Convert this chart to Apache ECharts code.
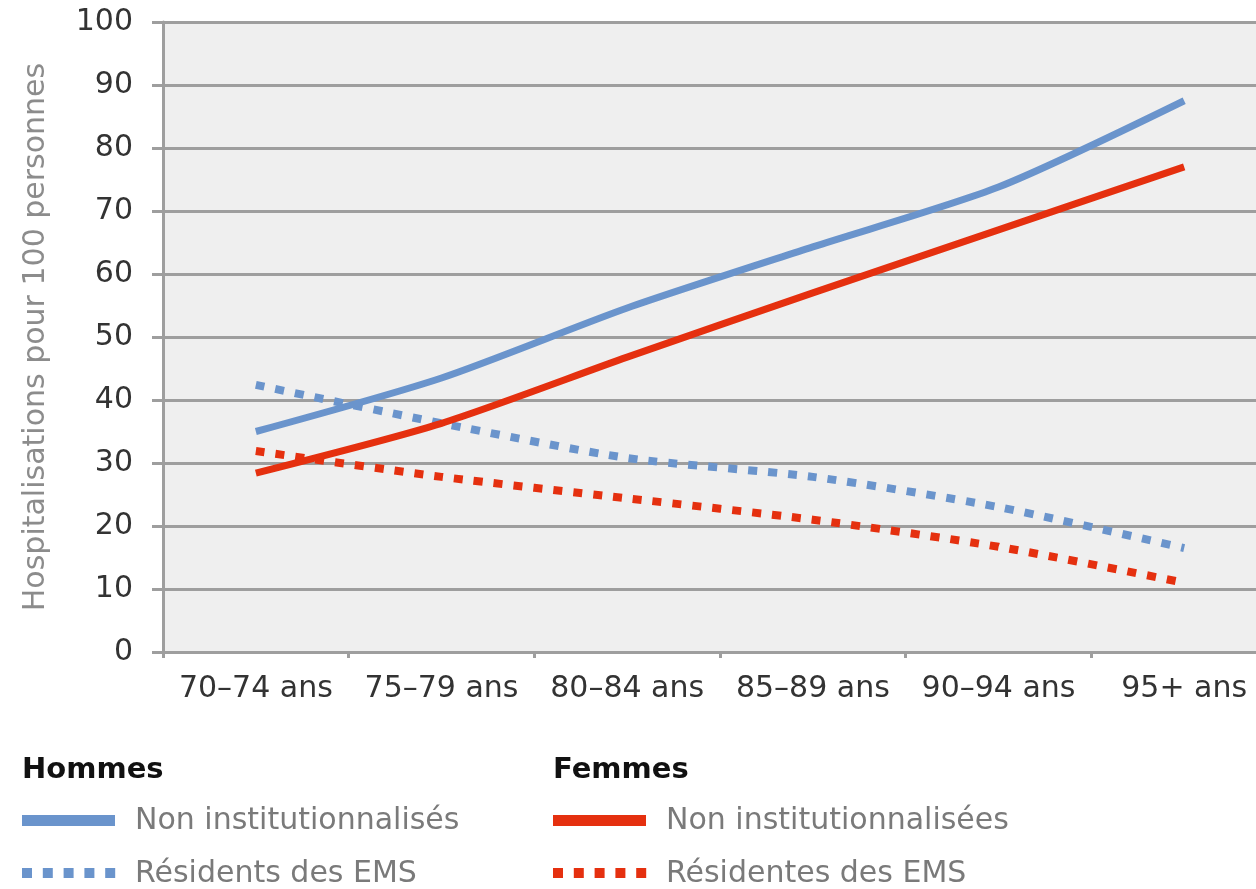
<!DOCTYPE html>
<html><head><meta charset="utf-8">
<script src="https://cdn.jsdelivr.net/npm/echarts@6/dist/echarts.min.js"></script>
<style>html,body{margin:0;padding:0;background:#fff;overflow:hidden;width:1256px;height:889px}#c{width:1280px;height:889px}</style>
</head><body><div id="c"></div>
<script>
const categories = ['70\u201374 ans','75\u201379 ans','80\u201384 ans','85\u201389 ans','90\u201394 ans','95+ ans'];
const hommesNonInst = [35.0, 43.5, 54.6, 64.3, 73.8, 87.5];
const hommesEMS     = [42.4, 36.3, 30.8, 27.8, 23.0, 16.5];
const femmesNonInst = [28.4, 36.3, 46.8, 57.0, 67.0, 77.0];
const femmesEMS     = [31.9, 27.8, 24.4, 21.0, 16.7, 11.0];
const yTicks = [0,10,20,30,40,50,60,70,80,90,100];
const yTitle = 'Hospitalisations pour 100 personnes';
const legendHeaders = ['Hommes','Femmes'];
const legendLabels = [['Non institutionnalisés','Résidents des EMS'],['Non institutionnalisées','Résidentes des EMS']];

const BLUE = '#6a94cc', RED = '#e5300f', GRID = '#9e9e9e';
const FONT = '"DejaVu Sans", sans-serif';
const chart = echarts.init(document.getElementById('c'));

function lineSeries(name, data, color, dotted){
  return {
    name, type:'line', data, smooth:0.25, symbol:'none',
    lineStyle:{color, width: dotted ? 8 : 7, type: dotted ? [9,11] : 'solid', cap:'butt'},
    itemStyle:{color}, z: dotted ? 2 : 3
  };
}

const graphic = [];
const cols = [{x:22, color:BLUE},{x:553, color:RED}];
cols.forEach((c, i) => {
  graphic.push({type:'text', left:c.x, top:756, style:{text:legendHeaders[i], font:'bold 29px '+FONT, fill:'#111'}});
  graphic.push({type:'rect', shape:{x:c.x, y:815, width:93, height:11}, style:{fill:c.color}});
  graphic.push({type:'text', left:c.x+113, top:806, style:{text:legendLabels[i][0], font:'30px '+FONT, fill:'#7a7a7a'}});
  for (let k=0;k<5;k++) graphic.push({type:'rect', shape:{x:c.x+k*20.8, y:868, width:10, height:10}, style:{fill:c.color}});
  graphic.push({type:'text', left:c.x+113, top:859, style:{text:legendLabels[i][1], font:'30px '+FONT, fill:'#7a7a7a'}});
});

chart.setOption({
  animation:false,
  backgroundColor:'#fff',
  grid:{left:163, top:22, width:1114, height:630, show:true, backgroundColor:'#efefef', borderWidth:0},
  xAxis:{
    type:'category', data:categories, boundaryGap:true,
    axisLine:{lineStyle:{color:GRID, width:3}},
    axisTick:{show:true, length:6, lineStyle:{color:GRID, width:3}},
    axisLabel:{color:'#333', fontSize:30, fontFamily:FONT, margin:22, interval:0}
  },
  yAxis:{
    type:'value', min:yTicks[0], max:yTicks[yTicks.length-1], interval:10,
    name:yTitle, nameLocation:'middle', nameRotate:90, nameGap:112,
    nameTextStyle:{color:'#8c8c8c', fontSize:30, fontFamily:FONT},
    axisLine:{show:true, lineStyle:{color:GRID, width:3}},
    axisTick:{show:true, length:11, lineStyle:{color:GRID, width:3}},
    axisLabel:{color:'#333', fontSize:30, fontFamily:FONT, margin:30},
    splitLine:{lineStyle:{color:GRID, width:3}}
  },
  series:[
    lineSeries('Hommes EMS', hommesEMS, BLUE, true),
    lineSeries('Femmes EMS', femmesEMS, RED, true),
    lineSeries('Hommes non inst.', hommesNonInst, BLUE, false),
    lineSeries('Femmes non inst.', femmesNonInst, RED, false)
  ],
  graphic
});
</script></body></html>
